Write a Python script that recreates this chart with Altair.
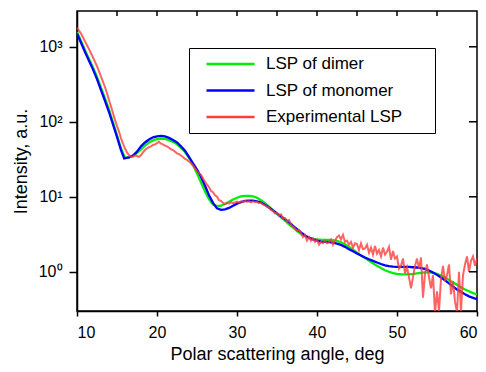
import altair as alt
import pandas as pd

# ---------------- data ----------------
series_names = ["LSP of dimer", "LSP of monomer", "Experimental LSP"]
series_colors = ["#00ee00", "#0000ff", "#ff3c3c"]

dimer_angle = [10.0, 10.5, 11.0, 11.5, 12.0, 12.5, 13.0, 13.5, 14.0, 14.5, 15.0, 15.5, 16.0,
               16.5, 17.0, 17.5, 18.0, 18.5, 19.0, 19.5, 20.0, 20.5, 21.0, 21.5, 22.0, 22.5,
               23.0, 23.5, 24.0, 24.5, 25.0, 25.5, 26.0, 26.5, 27.0, 27.5, 28.0, 28.5, 29.0,
               29.5, 30.0, 30.5, 31.0, 31.5, 32.0, 32.5, 33.0, 33.5, 34.0, 34.5, 35.0, 35.5,
               36.0, 36.5, 37.0, 37.5, 38.0, 38.5, 39.0, 39.5, 40.0, 40.5, 41.0, 41.5, 42.0,
               42.5, 43.0, 43.5, 44.0, 44.5, 45.0, 45.5, 46.0, 46.5, 47.0, 47.5, 48.0, 48.5,
               49.0, 49.5, 50.0, 50.5, 51.0, 51.5, 52.0, 52.5, 53.0, 53.5, 54.0, 54.5, 55.0,
               55.5, 56.0, 56.5, 57.0, 57.5, 58.0, 58.5, 59.0, 59.5, 60.0]
dimer_int = [1580, 1200, 900, 690, 530, 395, 285, 205, 145, 98, 66, 44, 33,
             33.5, 35, 38.5, 43, 48, 53, 56.5, 58.5, 59.5, 59, 57, 54, 50,
             45, 39.5, 33, 26.5, 20.5, 15.5, 11.8, 9.3, 7.9, 7.5, 7.6, 8.0, 8.6,
             9.2, 9.7, 10.1, 10.3, 10.3, 10.1, 9.7, 9.0, 8.2, 7.4, 6.6, 5.9, 5.3,
             4.8, 4.3, 3.9, 3.5, 3.2, 3.0, 2.85, 2.75, 2.7, 2.68, 2.67, 2.66, 2.64,
             2.58, 2.48, 2.33, 2.15, 1.97, 1.8, 1.65, 1.52, 1.4, 1.3, 1.2, 1.12, 1.05,
             1.0, 0.96, 0.935, 0.925, 0.925, 0.93, 0.94, 0.955, 0.97, 0.98, 0.98, 0.97, 0.94,
             0.89, 0.84, 0.78, 0.72, 0.67, 0.62, 0.58, 0.55, 0.52, 0.50]

monomer_angle = [10.0, 10.5, 11.0, 11.5, 12.0, 12.5, 13.0, 13.5, 14.0, 14.5, 15.0, 15.5, 15.9,
                 16.5, 17.0, 17.5, 18.0, 18.5, 19.0, 19.5, 20.0, 20.5, 21.0, 21.5, 22.0, 22.5,
                 23.0, 23.5, 24.0, 24.5, 25.0, 25.5, 26.0, 26.5, 27.0, 27.5, 28.0, 28.5, 29.0,
                 29.5, 30.0, 30.5, 31.0, 31.5, 32.0, 32.5, 33.0, 33.5, 34.0, 34.5, 35.0, 35.5,
                 36.0, 36.5, 37.0, 37.5, 38.0, 38.5, 39.0, 39.5, 40.0, 40.5, 41.0, 41.5, 42.0,
                 42.5, 43.0, 43.5, 44.0, 44.5, 45.0, 45.5, 46.0, 46.5, 47.0, 47.5, 48.0, 48.5,
                 49.0, 49.5, 50.0, 50.5, 51.0, 51.5, 52.0, 52.5, 53.0, 53.5, 54.0, 54.5, 55.0,
                 55.5, 56.0, 56.5, 57.0, 57.5, 58.0, 58.5, 59.0, 59.5, 60.0]
monomer_int = [1500, 1130, 850, 650, 500, 370, 265, 190, 135, 92, 63, 42, 32.5,
               33.5, 35.5, 40, 47, 53, 58, 62, 64, 65, 64, 61, 57, 53,
               47, 41, 34, 28, 23, 18.5, 14, 10.5, 8.3, 7.0, 6.7, 6.8, 7.1,
               7.6, 8.1, 8.5, 8.8, 8.9, 8.9, 8.7, 8.4, 7.8, 7.2, 6.6, 6.0, 5.5,
               5.0, 4.6, 4.1, 3.7, 3.35, 3.05, 2.85, 2.7, 2.6, 2.52, 2.5, 2.48, 2.45,
               2.38, 2.28, 2.15, 2.0, 1.88, 1.75, 1.65, 1.55, 1.47, 1.4, 1.33, 1.27, 1.22,
               1.19, 1.17, 1.16, 1.16, 1.16, 1.16, 1.15, 1.14, 1.12, 1.09, 1.04, 0.98, 0.91,
               0.84, 0.77, 0.70, 0.64, 0.58, 0.54, 0.50, 0.47, 0.45, 0.43]

exp_angle = [10.0, 10.25, 10.5, 10.75, 11.0, 11.25, 11.5, 11.75, 12.0, 12.25, 12.5, 12.75,
             13.0, 13.25, 13.5, 13.75, 14.0, 14.25, 14.5, 14.75, 15.0, 15.25, 15.5, 15.75,
             16.0, 16.25, 16.5, 16.75, 17.0, 17.25, 17.5, 17.75, 18.0, 18.25, 18.5, 18.75,
             19.0, 19.25, 19.5, 19.75, 20.0, 20.25, 20.5, 20.75, 21.0, 21.25, 21.5, 21.75,
             22.0, 22.25, 22.5, 22.75, 23.0, 23.25, 23.5, 23.75, 24.0, 24.25, 24.5, 24.75,
             25.0, 25.25, 25.5, 25.75, 26.0, 26.25, 26.5, 26.75, 27.0, 27.25, 27.5, 27.75,
             28.0, 28.25, 28.5, 28.75, 29.0, 29.25, 29.5, 29.75, 30.0, 30.25, 30.5, 30.75,
             31.0, 31.25, 31.5, 31.75, 32.0, 32.25, 32.5, 32.75, 33.0, 33.25, 33.5, 33.75,
             34.0, 34.25, 34.5, 34.75, 35.0, 35.25, 35.5, 35.75, 36.0, 36.25, 36.5, 36.75,
             37.0, 37.25, 37.5, 37.75, 38.0, 38.25, 38.5, 38.75, 39.0, 39.25, 39.5, 39.75,
             40.0, 40.25, 40.5, 40.75, 41.0, 41.25, 41.5, 41.75, 42.0, 42.25, 42.5, 42.75,
             43.0, 43.25, 43.5, 43.75, 44.0, 44.25, 44.5, 44.75, 45.0, 45.25, 45.5, 45.75,
             46.0, 46.25, 46.5, 46.75, 47.0, 47.25, 47.5, 47.75, 48.0, 48.25, 48.5, 48.75,
             49.0, 49.25, 49.5, 49.75, 50.0, 50.25, 50.5, 50.75, 51.0, 51.25, 51.5, 51.75,
             52.0, 52.25, 52.5, 52.75, 53.0, 53.25, 53.5, 53.75, 54.0, 54.25, 54.5, 54.75,
             55.0, 55.25, 55.5, 55.75, 56.0, 56.25, 56.5, 56.75, 57.0, 57.25, 57.5, 57.75,
             58.0, 58.25, 58.5, 58.75, 59.0, 59.25, 59.5, 59.75, 60.0]
exp_int = [1800, 1650, 1500, 1330, 1180, 1050, 930, 820, 720, 630, 550, 470,
           400, 340, 290, 240, 195, 160, 130, 106, 88, 74, 60, 51,
           44, 39, 36, 34, 34.5, 35.5, 35, 34, 36, 39, 42, 44,
           46, 47, 49, 50, 52, 54, 51, 50, 48, 47, 45, 43,
           42, 40, 38, 37, 35.5, 34, 32, 31, 29.5, 28, 26, 24,
           22, 20.5, 19.5, 17.5, 16, 14.5, 13.5, 12, 11.5, 10.5, 10, 9,
           8.8, 8.3, 8.0, 8.3, 8.1, 8.5, 8.2, 8.4, 8.6, 8.3, 8.7, 8.5,
           8.8, 8.6, 8.7, 8.4, 8.7, 8.5, 8.6, 8.2, 8.3, 7.9, 7.7, 7.4,
           7.2, 6.7, 6.5, 6.0, 6.1, 5.6, 5.8, 5.1, 5.2, 4.7, 4.9, 4.2,
           4.0, 3.8, 3.5, 3.6, 3.3, 2.9, 3.1, 2.6, 2.9, 2.6, 2.8, 2.5,
           2.7, 2.3, 2.5, 2.4, 2.6, 2.4, 2.5, 2.7, 2.3, 2.6, 2.9, 3.05,
           2.7, 3.1, 2.5, 2.6, 2.3, 2.5, 2.1, 2.4, 2.35, 1.95, 2.4, 2.0,
           2.05, 2.3, 1.8, 2.1, 1.7, 2.2, 1.75, 1.95, 1.6, 2.1, 1.7, 1.85,
           2.15, 1.45, 1.9, 1.5, 1.6, 1.1, 1.2, 1.5, 0.95, 1.15, 0.85, 0.6,
           0.85, 1.2, 1.5, 1.1, 1.55, 0.45, 0.95, 1.25, 0.85, 0.6, 0.9, 0.28,
           0.55, 0.3, 0.8, 1.2, 0.75, 0.9, 1.25, 0.5, 0.75, 0.4, 0.29, 1.0,
           0.3, 0.9, 1.25, 1.6, 1.0, 1.4, 1.6, 1.2, 1.5]

x_tick_values = [10, 15, 20, 25, 30, 35, 40, 45, 50, 55, 60]
y_tick_values = [1, 10, 100, 1000]

# ---------------- build tables ----------------
rows = []
for name, xs, ys in [(series_names[0], dimer_angle, dimer_int),
                     (series_names[1], monomer_angle, monomer_int),
                     (series_names[2], exp_angle, exp_int)]:
    for a, v in zip(xs, ys):
        rows.append({"series": name, "angle": a, "intensity": v})
df = pd.DataFrame(rows)

xt_df = pd.DataFrame({"angle": x_tick_values[1:-1]})
yt_df = pd.DataFrame({"intensity": y_tick_values})

FONT = "Liberation Sans"

x_scale = alt.Scale(domain=[10, 60], nice=False, zero=False)
y_scale = alt.Scale(type="log", domain=[0.3, 3000], nice=False)

x_enc = alt.X("angle:Q", scale=x_scale,
              axis=alt.Axis(title="Polar scattering angle, deg", values=x_tick_values,
                            labelExpr="datum.value % 10 == 0 ? datum.label : ''",
                            tickSize=5, labelPadding=8, titlePadding=5, grid=False,
                            labelFont=FONT, labelFontSize=16, labelColor="black",
                            titleFont=FONT, titleFontSize=18, titleColor="black",
                            titleFontWeight="normal",
                            domainColor="black", domainWidth=1.5, tickColor="black", tickWidth=1.5))
y_enc = alt.Y("intensity:Q", scale=y_scale,
              axis=alt.Axis(title="Intensity, a.u.", values=y_tick_values,
                            labelExpr="datum.value == 1000 ? '10³' : datum.value == 100 ? '10²' : datum.value == 10 ? '10¹' : '10⁰'",
                            tickSize=8, labelPadding=7, titlePadding=8, grid=False,
                            labelFont=FONT, labelFontSize=16, labelColor="black",
                            titleFont=FONT, titleFontSize=18, titleColor="black",
                            titleFontWeight="normal",
                            domainColor="black", domainWidth=1.5, tickColor="black", tickWidth=1.5))

color_enc = alt.Color("series:N",
                      scale=alt.Scale(domain=series_names, range=series_colors),
                      legend=alt.Legend(title=None, orient="none", legendX=112, legendY=37,
                                        symbolType="stroke", symbolSize=2304,
                                        symbolStrokeWidth=2.5, symbolOffset=8,
                                        clipHeight=16,
                                        labelFontSize=17, labelFont=FONT, labelColor="black",
                                        labelOffset=10, labelLimit=300,
                                        rowPadding=9.5, padding=8,
                                        labelExpr="datum.label + '\u2800\u2800'",
                                        strokeColor="black", fillColor="white"))

base = alt.Chart(df)
layers = []
for name, op, sw in [(series_names[0], 1.0, 2.3), (series_names[1], 1.0, 2.3), (series_names[2], 0.8, 2.0)]:
    layers.append(
        base.transform_filter(alt.datum.series == name)
        .mark_line(strokeWidth=sw, opacity=op, clip=True)
        .encode(x=x_enc, y=y_enc, color=color_enc)
    )

top_ticks = alt.Chart(xt_df).mark_rule(color="black", strokeWidth=1.5).encode(
    x=alt.X("angle:Q", scale=x_scale), y=alt.value(0), y2=alt.value(5))
right_ticks = alt.Chart(yt_df).mark_rule(color="black", strokeWidth=1.5).encode(
    y=alt.Y("intensity:Q", scale=y_scale), x=alt.value(392), x2=alt.value(400))

chart = alt.layer(*layers, top_ticks, right_ticks).properties(
    width=400, height=300,
    background="white",
    autosize=alt.AutoSizeParams(type="none"),
    padding={"left": 77, "top": 11, "right": 9, "bottom": 61},
).configure_view(stroke="black", strokeWidth=1.5)

chart.save("out.html", embed_options={"renderer": "svg", "actions": False})
